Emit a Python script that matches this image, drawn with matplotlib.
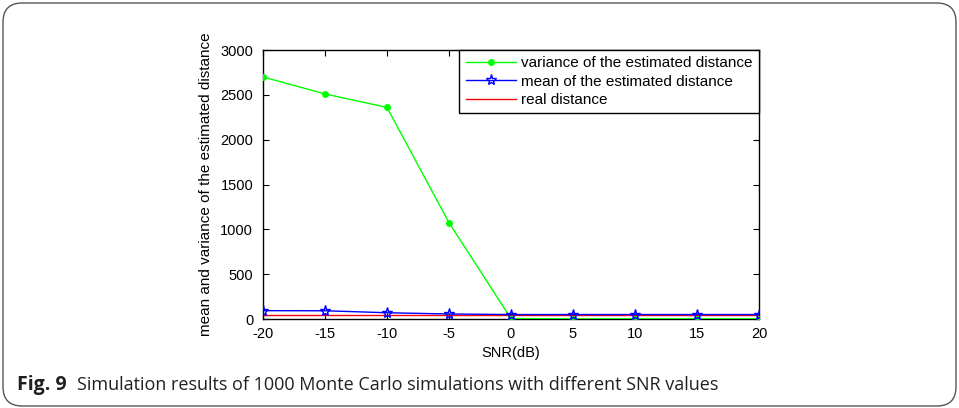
"""Monte Carlo SNR figure (Fig. 9) redrawn with matplotlib."""

import matplotlib
matplotlib.use("Agg")
import matplotlib.pyplot as plt
from matplotlib.patches import FancyBboxPatch

snr_db = [-20, -15, -10, -5, 0, 5, 10, 15, 20]
variance = [2700, 2510, 2360, 1075, 5, 2, 2, 2, 2]
mean_dist = [93, 92, 70, 56, 50, 50, 50, 50, 50]
real_dist = [50, 50, 50, 50, 50, 50, 50, 50, 50]
yticks = [0, 500, 1000, 1500, 2000, 2500, 3000]
xticks = [-20, -15, -10, -5, 0, 5, 10, 15, 20]

plt.rcParams["font.family"] = ["Liberation Sans", "DejaVu Sans"]
plt.rcParams["axes.unicode_minus"] = False

fig = plt.figure(figsize=(9.59, 4.08), dpi=100)
ax = fig.add_axes([0.2742, 0.2181, 0.5172, 0.6593])

ax.plot(snr_db, variance, color="#00ff00", lw=1.0, marker=".", ms=8,
        label="variance of the estimated distance", zorder=3)
ax.plot(snr_db, mean_dist, color="#0000ff", lw=1.0, marker="*", ms=8,
        mfc="none", mew=1.0, label="mean of the estimated distance", zorder=4)
ax.plot(snr_db, real_dist, color="#ff0000", lw=1.0,
        label="real distance", zorder=2)

ax.set_xlim(-20, 20)
ax.set_ylim(0, 3000)
ax.set_xticks(xticks)
ax.set_yticks(yticks)
ax.tick_params(direction="in", top=True, right=True, labelsize=10.5,
               length=4, width=0.8)
ax.tick_params(axis="x", pad=6)
ax.tick_params(axis="y", pad=7)
for side in ax.spines.values():
    side.set_linewidth(1.0)
ax.set_xlabel("SNR(dB)", fontsize=10.5, labelpad=3)
ax.set_ylabel("mean and variance of the estimated distance", fontsize=11,
              labelpad=5)

leg = ax.legend(loc="upper right", borderaxespad=0, fontsize=11,
                fancybox=False, framealpha=1, edgecolor="black",
                handlelength=3.3, handletextpad=0.35, labelspacing=0.3,
                borderpad=0.4)
leg.get_frame().set_linewidth(1.0)

# rounded panel frame around the whole figure
frame = FancyBboxPatch((3 / 959, 2 / 408), 953 / 959, 403 / 408,
                       boxstyle="round,pad=0,rounding_size=0.02",
                       transform=fig.transFigure, fill=False,
                       edgecolor="#555555", lw=1.0,
                       mutation_aspect=959 / 408)
fig.patches.append(frame)

cap_y = 1 - 385 / 408
fig.text(17 / 959, cap_y, "Fig. 9", fontsize=14, fontweight="bold",
         family=["Open Sans", "DejaVu Sans"], va="center", color="#231f20")
fig.text(77 / 959, cap_y,
         "Simulation results of 1000 Monte Carlo simulations with different SNR values",
         fontsize=13, family=["Open Sans", "DejaVu Sans"], va="center",
         color="#231f20")

fig.savefig("out.png", dpi=100)
